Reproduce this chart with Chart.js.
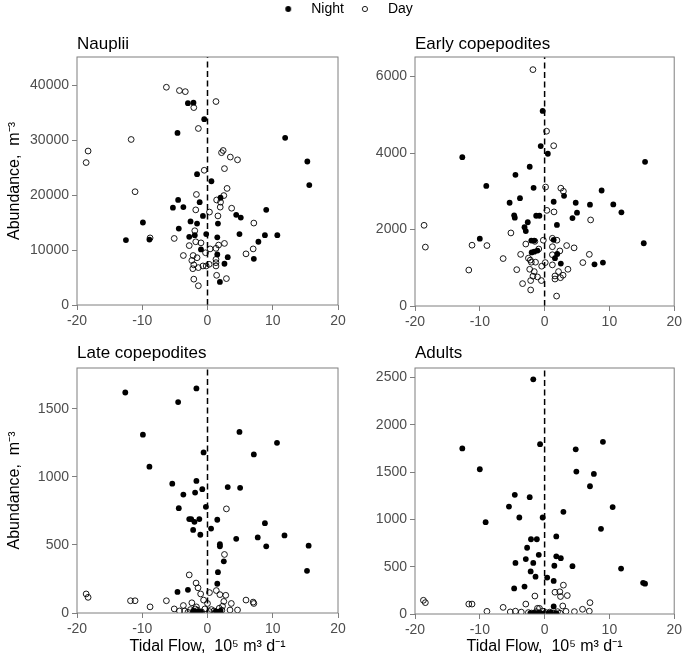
<!DOCTYPE html>
<html>
<head>
<meta charset="utf-8">
<script src="https://cdn.jsdelivr.net/npm/chart.js@4.4.1/dist/chart.umd.min.js"></script>
<style>
html,body{margin:0;padding:0;background:#fff;}
body{width:685px;height:662px;position:relative;overflow:hidden;}
.box{position:absolute;}
</style>
</head>
<body>
<div class="box" style="left:0;top:-3px;width:685px;height:40px"><canvas id="legendCanvas"></canvas></div>
<div class="box" style="left:0;top:25px;width:350px;height:310px"><canvas id="c1"></canvas></div>
<div class="box" style="left:343px;top:25px;width:342px;height:310px"><canvas id="c2"></canvas></div>
<div class="box" style="left:0;top:335px;width:350px;height:327px"><canvas id="c3"></canvas></div>
<div class="box" style="left:343px;top:335px;width:342px;height:327px"><canvas id="c4"></canvas></div>
<script>
// ---------- DATA ----------
const seriesNames = ['Night', 'Day'];
const panelTitles = ['Nauplii', 'Early copepodites', 'Late copepodites', 'Adults'];
const xTicks = [-20, -10, 0, 10, 20];
const xLimits = [-20, 20];
const zeroFlow = 0;

const naupliiYTicks = [0, 10000, 20000, 30000, 40000];
const naupliiYMax = 45100;
const earlyYTicks = [0, 2000, 4000, 6000];
const earlyYMax = 6510;
const lateYTicks = [0, 500, 1000, 1500];
const lateYMax = 1800;
const adultsYTicks = [0, 500, 1000, 1500, 2000, 2500];
const adultsYMax = 2600;

const naupliiNight = [[-3.0,36700],[-2.15,36800],[-0.5,33800],[-4.6,31300],[11.9,30400],[15.3,26100],[15.6,21800],[-1.6,23800],[0.6,22500],[2.0,19500],[-4.5,19100],[-1.2,18700],[-5.3,17700],[-3.7,17800],[9.0,17300],[4.4,16400],[5.1,15900],[-0.7,16200],[-9.9,15000],[-2.6,15200],[-1.6,14800],[1.6,14800],[-4.4,13900],[-2.8,12400],[-1.95,12700],[-0.2,12900],[1.5,12300],[4.9,12900],[8.8,12700],[10.7,12700],[-12.5,11800],[-8.9,11900],[7.8,11500],[-1.0,10100],[1.5,9200],[3.1,8700],[7.1,8400],[2.6,7500],[1.9,4200]];
const naupliiDay = [[-6.3,39600],[-4.3,39000],[-3.4,38800],[-2.1,35900],[1.3,37000],[-1.4,32100],[-11.7,30100],[-18.3,28000],[-18.6,25900],[2.4,28100],[2.15,27700],[3.5,26900],[4.6,26400],[-0.5,24500],[2.6,24800],[3.0,21200],[-11.1,20600],[-1.7,20100],[2.5,19900],[1.4,19100],[2.0,18700],[1.95,17800],[3.7,17600],[-1.8,17300],[0.3,16900],[1.6,16200],[7.1,14900],[-1.95,13500],[-8.8,12200],[-5.1,12100],[-2.8,10800],[-1.8,11500],[-1.0,11300],[0.4,10200],[1.3,10300],[1.7,10900],[2.6,11200],[-0.3,9500],[-3.7,9000],[-2.2,9000],[-1.6,8600],[-2.4,8100],[1.3,8300],[1.3,7700],[1.3,7100],[7.0,10200],[5.9,9300],[-2.1,7300],[-2.25,6600],[-1.4,6800],[-0.7,7100],[-0.2,7100],[0.25,7400],[-2.1,4700],[-1.4,3500],[1.4,5400],[2.9,4800]];

const earlyNight = [[-0.3,5100],[-0.6,4180],[0.5,3980],[-12.7,3890],[15.5,3770],[-2.3,3640],[-4.5,3430],[-9.0,3140],[-1.7,3090],[8.8,3020],[-3.8,2820],[3.0,2880],[-5.4,2700],[1.4,2725],[4.8,2700],[7.0,2650],[10.6,2655],[11.85,2450],[5.0,2440],[4.3,2300],[-4.7,2370],[-4.6,2310],[-1.3,2360],[-0.8,2360],[-2.6,2190],[1.9,2120],[-3.1,2060],[-2.9,1960],[-10.0,1760],[15.3,1640],[-2.05,1710],[-1.6,1710],[1.4,1730],[-2.0,1400],[-1.6,1420],[-1.1,1450],[1.95,1360],[1.6,1250],[2.5,1110],[7.7,1090],[9.0,1135]];
const earlyDay = [[-1.8,6180],[0.3,4570],[1.4,4190],[-18.6,2110],[-18.4,1540],[-11.2,1590],[-8.9,1580],[-11.7,940],[-6.4,1240],[-5.2,1910],[0.15,3110],[2.5,3080],[2.9,3000],[0.35,2500],[1.45,2460],[7.1,2250],[-2.9,1620],[-1.5,1690],[-0.2,1720],[1.2,1770],[1.9,1720],[1.2,1550],[2.35,1440],[3.4,1580],[4.55,1520],[6.9,1350],[5.9,1135],[-3.7,1350],[-2.5,1250],[-2.2,1200],[-2.05,1145],[-0.9,1490],[1.2,1340],[1.2,1075],[0.1,1135],[-0.45,1040],[-1.4,1145],[-4.3,950],[-2.3,960],[-1.6,900],[-1.8,780],[-1.1,760],[-0.5,665],[-2.15,665],[-3.4,585],[-2.15,420],[1.85,260],[2.15,900],[1.6,785],[1.6,705],[2.45,740],[2.85,805],[3.6,960]];

const lateNight = [[-12.6,1620],[-1.7,1650],[-4.5,1550],[-9.9,1310],[4.9,1330],[10.65,1250],[7.1,1165],[-0.6,1180],[-8.9,1075],[-5.4,950],[-1.7,970],[-3.7,870],[-1.9,885],[-0.8,910],[3.1,925],[5.0,920],[-0.25,780],[-4.4,770],[-2.8,690],[-2.5,690],[-2.0,670],[-1.25,690],[1.5,685],[0.55,620],[-2.2,610],[-1.1,575],[8.8,660],[7.7,555],[11.8,570],[4.4,545],[9.0,490],[15.5,495],[1.9,505],[1.9,490],[2.5,380],[1.6,300],[15.25,310],[1.5,215],[-3.0,170],[-4.6,155],[-2.2,15],[-1.8,10],[-1.4,12],[-1.0,8],[1.3,12],[1.6,8],[2.0,15]];
const lateDay = [[2.9,765],[2.6,430],[-2.8,280],[-1.75,220],[-1.45,185],[-1.05,140],[-0.6,95],[0.3,150],[-18.6,140],[-18.3,115],[-11.8,90],[-11.1,90],[-8.8,45],[-6.3,90],[-5.1,30],[-4.3,15],[-3.5,15],[-3.7,55],[-2.4,75],[-1.7,45],[0.0,70],[1.35,165],[1.9,135],[2.8,130],[2.5,85],[2.3,50],[3.65,70],[5.9,95],[7.0,80],[7.1,70],[3.45,22],[4.6,22],[-2.6,25],[-1.5,20],[-0.4,30],[0.6,25],[1.0,15],[1.8,35],[2.2,20],[-3.0,5],[-0.9,8],[1.2,5],[0.3,10],[-1.9,30]];

const adultsNight = [[-1.75,2480],[-12.7,1750],[-0.7,1795],[4.8,1740],[9.0,1820],[-10.0,1530],[4.9,1505],[7.6,1480],[7.0,1350],[-4.6,1260],[-2.3,1235],[-5.5,1135],[10.5,1130],[2.9,1080],[-3.9,1020],[-0.3,1020],[-9.1,970],[8.7,900],[-2.1,790],[-1.2,790],[1.8,820],[-2.7,700],[-0.9,625],[1.8,610],[2.5,590],[-4.5,540],[-2.9,580],[-1.75,540],[1.5,510],[4.3,505],[-2.15,450],[11.8,480],[-1.4,395],[0.4,385],[1.4,350],[15.2,330],[15.5,320],[-4.7,270],[-3.1,290],[1.4,80],[-2.2,10],[-1.6,12],[-1.0,8],[0.6,10],[1.0,15],[1.8,10],[-0.4,5]];
const adultsDay = [[-18.7,145],[-18.4,120],[-11.7,105],[-11.2,105],[-8.9,28],[-6.4,70],[-2.9,105],[-1.5,190],[2.9,305],[1.6,230],[2.35,235],[2.45,185],[3.5,195],[-1.1,60],[-0.8,60],[2.8,85],[5.85,50],[7.0,120],[6.9,30],[4.6,25],[3.3,28],[-4.5,30],[-5.3,22],[-3.6,20],[-2.5,15],[-2.0,10],[-1.3,25],[-0.3,30],[0.2,15],[0.8,20],[1.3,10],[2.0,25],[2.4,8],[-0.8,8]];

// ---------- STYLE / BUILD ----------
const FONT = "'Liberation Sans', Arial, Helvetica, sans-serif";
Chart.defaults.font.family = FONT;
Chart.defaults.animation = false;

const nightStyle = {pointStyle:'circle', pointRadius:2.9, pointHoverRadius:2.9, pointBackgroundColor:'#000', pointBorderColor:'#000', pointBorderWidth:0, backgroundColor:'#000', borderColor:'#000'};
const dayStyle = {pointStyle:'circle', pointRadius:2.9, pointHoverRadius:2.9, pointBackgroundColor:'rgba(0,0,0,0)', pointBorderColor:'#000', pointBorderWidth:0.9, backgroundColor:'rgba(0,0,0,0)', borderColor:'#000'};

const toPoints = arr => arr.map(p => ({x: p[0], y: p[1]}));

const frameBox = {
  id: 'frameBox',
  afterDraw(chart) {
    const a = chart.chartArea, ctx = chart.ctx;
    ctx.save();
    ctx.strokeStyle = '#7f7f7f';
    ctx.lineWidth = 1;
    ctx.strokeRect(a.left, a.top, a.right - a.left, a.bottom - a.top);
    ctx.restore();
  }
};

function makePanel(id, title, night, day, yTicks, yMax, o) {
  new Chart(document.getElementById(id), {
    type: 'scatter',
    data: {
      datasets: [
        {type:'line', label:'zero', data:[{x:zeroFlow,y:0},{x:zeroFlow,y:yMax}], borderColor:'#000', borderWidth:1.5, borderDash:[6,3.5], pointRadius:0, fill:false},
        Object.assign({label: seriesNames[0], data: toPoints(night)}, nightStyle),
        Object.assign({label: seriesNames[1], data: toPoints(day)}, dayStyle)
      ]
    },
    options: {
      responsive: true,
      maintainAspectRatio: false,
      events: [],
      layout: {padding: {left: 0, right: o.padRight, top: 0, bottom: 0}},
      plugins: {
        legend: {display: false},
        tooltip: {enabled: false},
        title: {display: true, text: title, align: 'start', fullSize: false, color: '#000',
                font: {size: 17, family: FONT, weight: 'normal', lineHeight: 1.2},
                padding: {top: o.titleTop, bottom: o.titleBottom}}
      },
      scales: {
        x: {
          type: 'linear', min: xLimits[0], max: xLimits[1],
          afterBuildTicks: s => { s.ticks = xTicks.map(v => ({value: v})); },
          afterFit: s => { s.height = o.xHeight; },
          ticks: {color: '#4d4d4d', font: {size: 14}, padding: 3, maxRotation: 0, autoSkip: false, callback: v => String(v)},
          grid: {display: true, drawOnChartArea: false, drawTicks: true, tickLength: 5, color: '#7f7f7f', lineWidth: 1},
          border: {display: false},
          title: {display: !!o.xTitle, text: o.xTitle || '', color: '#000', font: {size: 16, lineHeight: 1.2}, padding: {top: 0, bottom: 6}}
        },
        y: {
          type: 'linear', min: 0, max: yMax,
          afterBuildTicks: s => { s.ticks = yTicks.map(v => ({value: v})); },
          afterFit: s => { s.width = o.yWidth; },
          ticks: {color: '#4d4d4d', font: {size: 14}, padding: 3, autoSkip: false, callback: v => String(v)},
          grid: {display: true, drawOnChartArea: false, drawTicks: true, tickLength: 5, color: '#7f7f7f', lineWidth: 1},
          border: {display: false},
          title: {display: !!o.yTitle, text: o.yTitle || '', color: '#000', font: {size: 16, lineHeight: 1.2}, padding: {top: 5, bottom: 0}}
        }
      }
    },
    plugins: [frameBox]
  });
}

const yTitle = 'Abundance,  m\u207B\u00B3';
const xTitle = 'Tidal Flow,  10\u2075 m\u00B3 d\u207B\u00B9';

makePanel('c1', panelTitles[0], naupliiNight, naupliiDay, naupliiYTicks, naupliiYMax,
  {padRight: 12, titleTop: 9.6, titleBottom: 2, xHeight: 30, yWidth: 77, yTitle: yTitle});
makePanel('c2', panelTitles[1], earlyNight, earlyDay, earlyYTicks, earlyYMax,
  {padRight: 10, titleTop: 9.6, titleBottom: 2, xHeight: 29, yWidth: 72});
makePanel('c3', panelTitles[2], lateNight, lateDay, lateYTicks, lateYMax,
  {padRight: 12, titleTop: 8.6, titleBottom: 4, xHeight: 49, yWidth: 77, yTitle: yTitle, xTitle: xTitle});
makePanel('c4', panelTitles[3], adultsNight, adultsDay, adultsYTicks, adultsYMax,
  {padRight: 10, titleTop: 8.6, titleBottom: 4, xHeight: 48, yWidth: 72, xTitle: xTitle});

// shared legend: legend keys are small circle images so the key sits centred in a wider key box
function keyImage(filled) {
  const c = document.createElement('canvas');
  c.width = 8; c.height = 8;
  const g = c.getContext('2d');
  g.beginPath();
  g.arc(4, 4, filled ? 2.9 : 2.6, 0, Math.PI * 2);
  if (filled) { g.fillStyle = '#000'; g.fill(); }
  else { g.strokeStyle = '#000'; g.lineWidth = 0.9; g.stroke(); }
  return c;
}
new Chart(document.getElementById('legendCanvas'), {
  type: 'scatter',
  data: {datasets: [
    Object.assign({}, nightStyle, {label: seriesNames[0], data: [], pointStyle: keyImage(true)}),
    Object.assign({}, dayStyle, {label: seriesNames[1], data: [], pointStyle: keyImage(false)})
  ]},
  options: {
    responsive: true, maintainAspectRatio: false, events: [],
    scales: {x: {display: false}, y: {display: false}},
    plugins: {
      tooltip: {enabled: false},
      legend: {display: true, position: 'top',
        labels: {usePointStyle: true, pointStyleWidth: 32, boxHeight: 8, padding: 5, color: '#000', font: {size: 14}}}
    }
  }
});
</script>
</body>
</html>
